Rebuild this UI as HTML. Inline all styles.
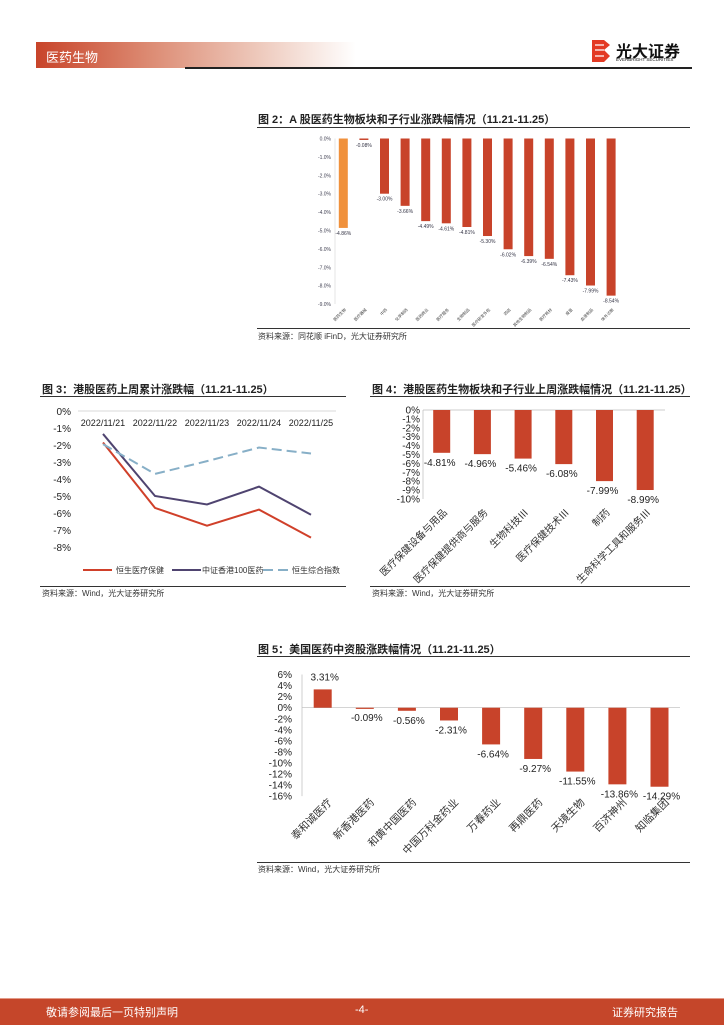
<!DOCTYPE html>
<html><head><meta charset="utf-8">
<style>
body{margin:0;width:724px;height:1024px;position:relative;background:#fff;font-family:"Liberation Sans","Noto Sans CJK SC",sans-serif;overflow:hidden}
.abs{position:absolute}
.ttl{font-size:11px;font-weight:bold;color:#222;white-space:nowrap}
.src{font-size:8px;color:#333;white-space:nowrap}
</style></head><body>
<div class="abs" style="left:36px;top:42px;width:320px;height:26px;background:linear-gradient(90deg,#c8442a,#dc8a72 35%,#eecabd 70%,#fff)"></div>
<div class="abs" style="left:46px;top:47px;color:#fff;font-size:13px">医药生物</div>
<div class="abs" style="left:185px;top:67px;width:507px;height:1.5px;background:#222"></div>
<svg class="abs" style="left:590px;top:38px" width="22" height="26"><path d="M2 2h12l6 5-6 5 6 6-6 6H2z" fill="#e33a24"/><path d="M5 7h9M5 12h9M5 18h9" stroke="#fff" stroke-width="1.2"/></svg>
<div class="abs" style="left:616px;top:38px;font-size:16px;font-weight:bold;color:#111">光大证券</div>
<div class="abs" style="left:616px;top:57px;font-size:4.5px;color:#111">EVERBRIGHT SECURITIES</div>

<div class="abs ttl" style="left:258px;top:111px">图 2：A 股医药生物板块和子行业涨跌幅情况（11.21-11.25）</div>
<div class="abs" style="left:257px;top:127px;width:433px;height:1px;background:#333"></div>
<svg class="abs" id="fig2" style="left:0;top:0" width="724" height="340"></svg>
<div class="abs" style="left:257px;top:328px;width:433px;height:1px;background:#333"></div>
<div class="abs src" style="left:258px;top:331px">资料来源：同花顺 iFinD，光大证券研究所</div>

<div class="abs ttl" style="left:42px;top:381px">图 3：港股医药上周累计涨跌幅（11.21-11.25）</div>
<div class="abs" style="left:40px;top:396px;width:306px;height:1px;background:#333"></div>
<svg class="abs" id="fig3" style="left:0;top:0" width="360" height="600"></svg>
<div class="abs" style="left:40px;top:586px;width:306px;height:1px;background:#333"></div>
<div class="abs src" style="left:42px;top:588px">资料来源：Wind，光大证券研究所</div>

<div class="abs ttl" style="left:372px;top:381px">图 4：港股医药生物板块和子行业上周涨跌幅情况（11.21-11.25）</div>
<div class="abs" style="left:370px;top:396px;width:320px;height:1px;background:#333"></div>
<svg class="abs" id="fig4" style="left:0;top:0" width="724" height="600"></svg>
<div class="abs" style="left:370px;top:586px;width:320px;height:1px;background:#333"></div>
<div class="abs src" style="left:372px;top:588px">资料来源：Wind，光大证券研究所</div>

<div class="abs ttl" style="left:258px;top:641px">图 5：美国医药中资股涨跌幅情况（11.21-11.25）</div>
<div class="abs" style="left:257px;top:656px;width:433px;height:1px;background:#333"></div>
<svg class="abs" id="fig5" style="left:0;top:0" width="724" height="870"></svg>
<div class="abs" style="left:257px;top:862px;width:433px;height:1px;background:#333"></div>
<div class="abs src" style="left:258px;top:864px">资料来源：Wind，光大证券研究所</div>

<div class="abs" style="left:0;top:998px;width:724px;height:26px;background:#c5462a;border-top:1px solid #e39a88"></div>
<div class="abs" style="left:46px;top:1004px;color:#fff;font-size:11px">敬请参阅最后一页特别声明</div>
<div class="abs" style="left:355px;top:1004px;color:#fff;font-size:11px">-4-</div>
<div class="abs" style="left:612px;top:1004px;color:#fff;font-size:11px">证券研究报告</div>

<script>
const NS="http://www.w3.org/2000/svg";
function mk(svg,tag,at,txt){const e=document.createElementNS(NS,tag);for(const k in at)e.setAttribute(k,at[k]);if(txt!==undefined)e.textContent=txt;svg.appendChild(e);return e;}

// ---- Fig 2 data ----
const f2Cats=["医药生物","医疗器械","中药","化学制药","医药商业","医疗服务","生物制品","医疗研发外包","药店","其他生物制品","医疗耗材","疫苗","血液制品","体外诊断"];
const f2Vals=[-4.86,-0.08,-3.00,-3.66,-4.49,-4.61,-4.81,-5.30,-6.02,-6.39,-6.54,-7.43,-7.99,-8.54];
const f2Ticks=[0,-1,-2,-3,-4,-5,-6,-7,-8,-9];
// ---- Fig 3 data ----
const f3Dates=["2022/11/21","2022/11/22","2022/11/23","2022/11/24","2022/11/25"];
const f3Health=[-1.85,-5.7,-6.75,-5.8,-7.45];
const f3Csi=[-1.35,-5.0,-5.5,-4.45,-6.1];
const f3Hsci=[-1.95,-3.7,-2.95,-2.15,-2.5];
const f3Names=["恒生医疗保健","中证香港100医药","恒生综合指数"];
const f3Ticks=[0,-1,-2,-3,-4,-5,-6,-7,-8];
// ---- Fig 4 data ----
const f4Cats=["医疗保健设备与用品","医疗保健提供商与服务","生物科技Ⅲ","医疗保健技术Ⅲ","制药","生命科学工具和服务Ⅲ"];
const f4Vals=[-4.81,-4.96,-5.46,-6.08,-7.99,-8.99];
const f4Ticks=[0,-1,-2,-3,-4,-5,-6,-7,-8,-9,-10];
// ---- Fig 5 data ----
const f5Cats=["泰和诚医疗","新香港医药","和黄中国医药","中国万科金药业","万春药业","再鼎医药","天境生物","百济神州","知临集团"];
const f5Vals=[3.31,-0.09,-0.56,-2.31,-6.64,-9.27,-11.55,-13.86,-14.29];
const f5Ticks=[6,4,2,0,-2,-4,-6,-8,-10,-12,-14,-16];

const RED="#c8432a";
// Fig 2
(function(){const s=document.getElementById('fig2');
 const Y=v=>138.5-v*18.4, X0=343.3, dx=20.6, X=i=>X0+i*dx, bw=9;
 mk(s,'line',{x1:335,y1:138.5,x2:335,y2:304,stroke:'#ccc','stroke-width':0.5});
 f2Ticks.forEach(t=>{const e=mk(s,'text',{x:331,y:Y(t)+2,'font-size':5,fill:'#445','text-anchor':'end'},t.toFixed(1)+'%');
  });
 f2Vals.forEach((v,i)=>{const r=mk(s,'rect',{x:X(i)-bw/2,y:138.5,width:bw,height:Math.max(1,Y(v)-138.5),fill:i==0?'#f0913c':RED});
  
  const l=mk(s,'text',{x:X(i),y:Y(v)+7,'font-size':5,fill:'#334','text-anchor':'middle'},v.toFixed(2)+'%');
  
  const c=mk(s,'text',{x:X(i)+3,y:310,'font-size':4,fill:'#444','text-anchor':'end',transform:`rotate(-45 ${X(i)+3} 310)`},f2Cats[i]);
  });
})();
// Fig 3
(function(){const s=document.getElementById('fig3');
 const Y=v=>411-v*17, X=i=>103+i*52;
 mk(s,'line',{x1:78,y1:411,x2:336,y2:411,stroke:'#ccc','stroke-width':0.7});
 f3Ticks.forEach(t=>{const e=mk(s,'text',{x:71,y:Y(t)+4,'font-size':10,fill:'#222','text-anchor':'end'},t+'%');
  });
 f3Dates.forEach((d,i)=>{const e=mk(s,'text',{x:X(i),y:426,'font-size':9,fill:'#222','text-anchor':'middle'},d);
  });
 const series=[[f3Health,'#d0402a',''],[f3Csi,'#4f4470',''],[f3Hsci,'#87afc7','10,5']];
 const lgX=[83,172,263], txX=[116,202,292];
 series.forEach((sr,k)=>{const p=mk(s,'polyline',{points:sr[0].map((v,i)=>X(i)+','+Y(v)).join(' '),fill:'none',stroke:sr[1],'stroke-width':2,'stroke-dasharray':sr[2]});
  
  const lx=lgX[k];
  const ll=mk(s,'line',{x1:lx,y1:570,x2:lx+29,y2:570,stroke:sr[1],'stroke-width':2,'stroke-dasharray':sr[2]});
  
  const lt=mk(s,'text',{x:txX[k],y:573,'font-size':8,fill:'#333'},f3Names[k]);
  });
})();
// Fig 4
(function(){const s=document.getElementById('fig4');
 const Y=v=>410-v*8.9, X=i=>441.7+i*40.7, bw=17;
 mk(s,'line',{x1:423,y1:410,x2:665,y2:410,stroke:'#bbb','stroke-width':0.7});
 mk(s,'line',{x1:423,y1:410,x2:423,y2:499,stroke:'#bbb','stroke-width':0.7});
 f4Ticks.forEach(t=>{const e=mk(s,'text',{x:420,y:Y(t)+3.5,'font-size':10,fill:'#222','text-anchor':'end'},t+'%');
  });
 f4Vals.forEach((v,i)=>{const yb=Y(v);
  const r=mk(s,'rect',{x:X(i)-bw/2,y:410,width:bw,height:yb-410,fill:RED});
  
  const l=mk(s,'text',{x:X(i)-2,y:yb+13,'font-size':10,fill:'#222','text-anchor':'middle'},v.toFixed(2)+'%');
  
  const c=mk(s,'text',{x:X(i)+6,y:513,'font-size':10,fill:'#333','text-anchor':'end',transform:`rotate(-45 ${X(i)+6} 513)`},f4Cats[i]);
  });
})();
// Fig 5
(function(){const s=document.getElementById('fig5');
 const Y=v=>707.7-v*5.53, X=i=>322.7+i*42.1, bw=18;
 mk(s,'line',{x1:302,y1:Y(0),x2:680,y2:Y(0),stroke:'#bbb','stroke-width':0.7});
 mk(s,'line',{x1:302,y1:Y(6),x2:302,y2:Y(-16),stroke:'#bbb','stroke-width':0.7});
 f5Ticks.forEach(t=>{const e=mk(s,'text',{x:292,y:Y(t)+3.5,'font-size':10,fill:'#222','text-anchor':'end'},t+'%');
  });
 f5Vals.forEach((v,i)=>{const y0=Y(Math.max(v,0)),h=Math.max(1.2,Math.abs(Y(v)-Y(0)));
  const r=mk(s,'rect',{x:X(i)-bw/2,y:y0,width:bw,height:h,fill:RED});
  
  const ly=v>=0?Y(v)-9:Y(v)+13;
  const l=mk(s,'text',{x:X(i)+2,y:ly,'font-size':10,fill:'#222','text-anchor':'middle'},v.toFixed(2)+'%');
  
  const c=mk(s,'text',{x:X(i)+10,y:803,'font-size':10.5,fill:'#333','text-anchor':'end',transform:`rotate(-45 ${X(i)+10} 803)`},f5Cats[i]);
  });
})();
</script>
</body></html>
